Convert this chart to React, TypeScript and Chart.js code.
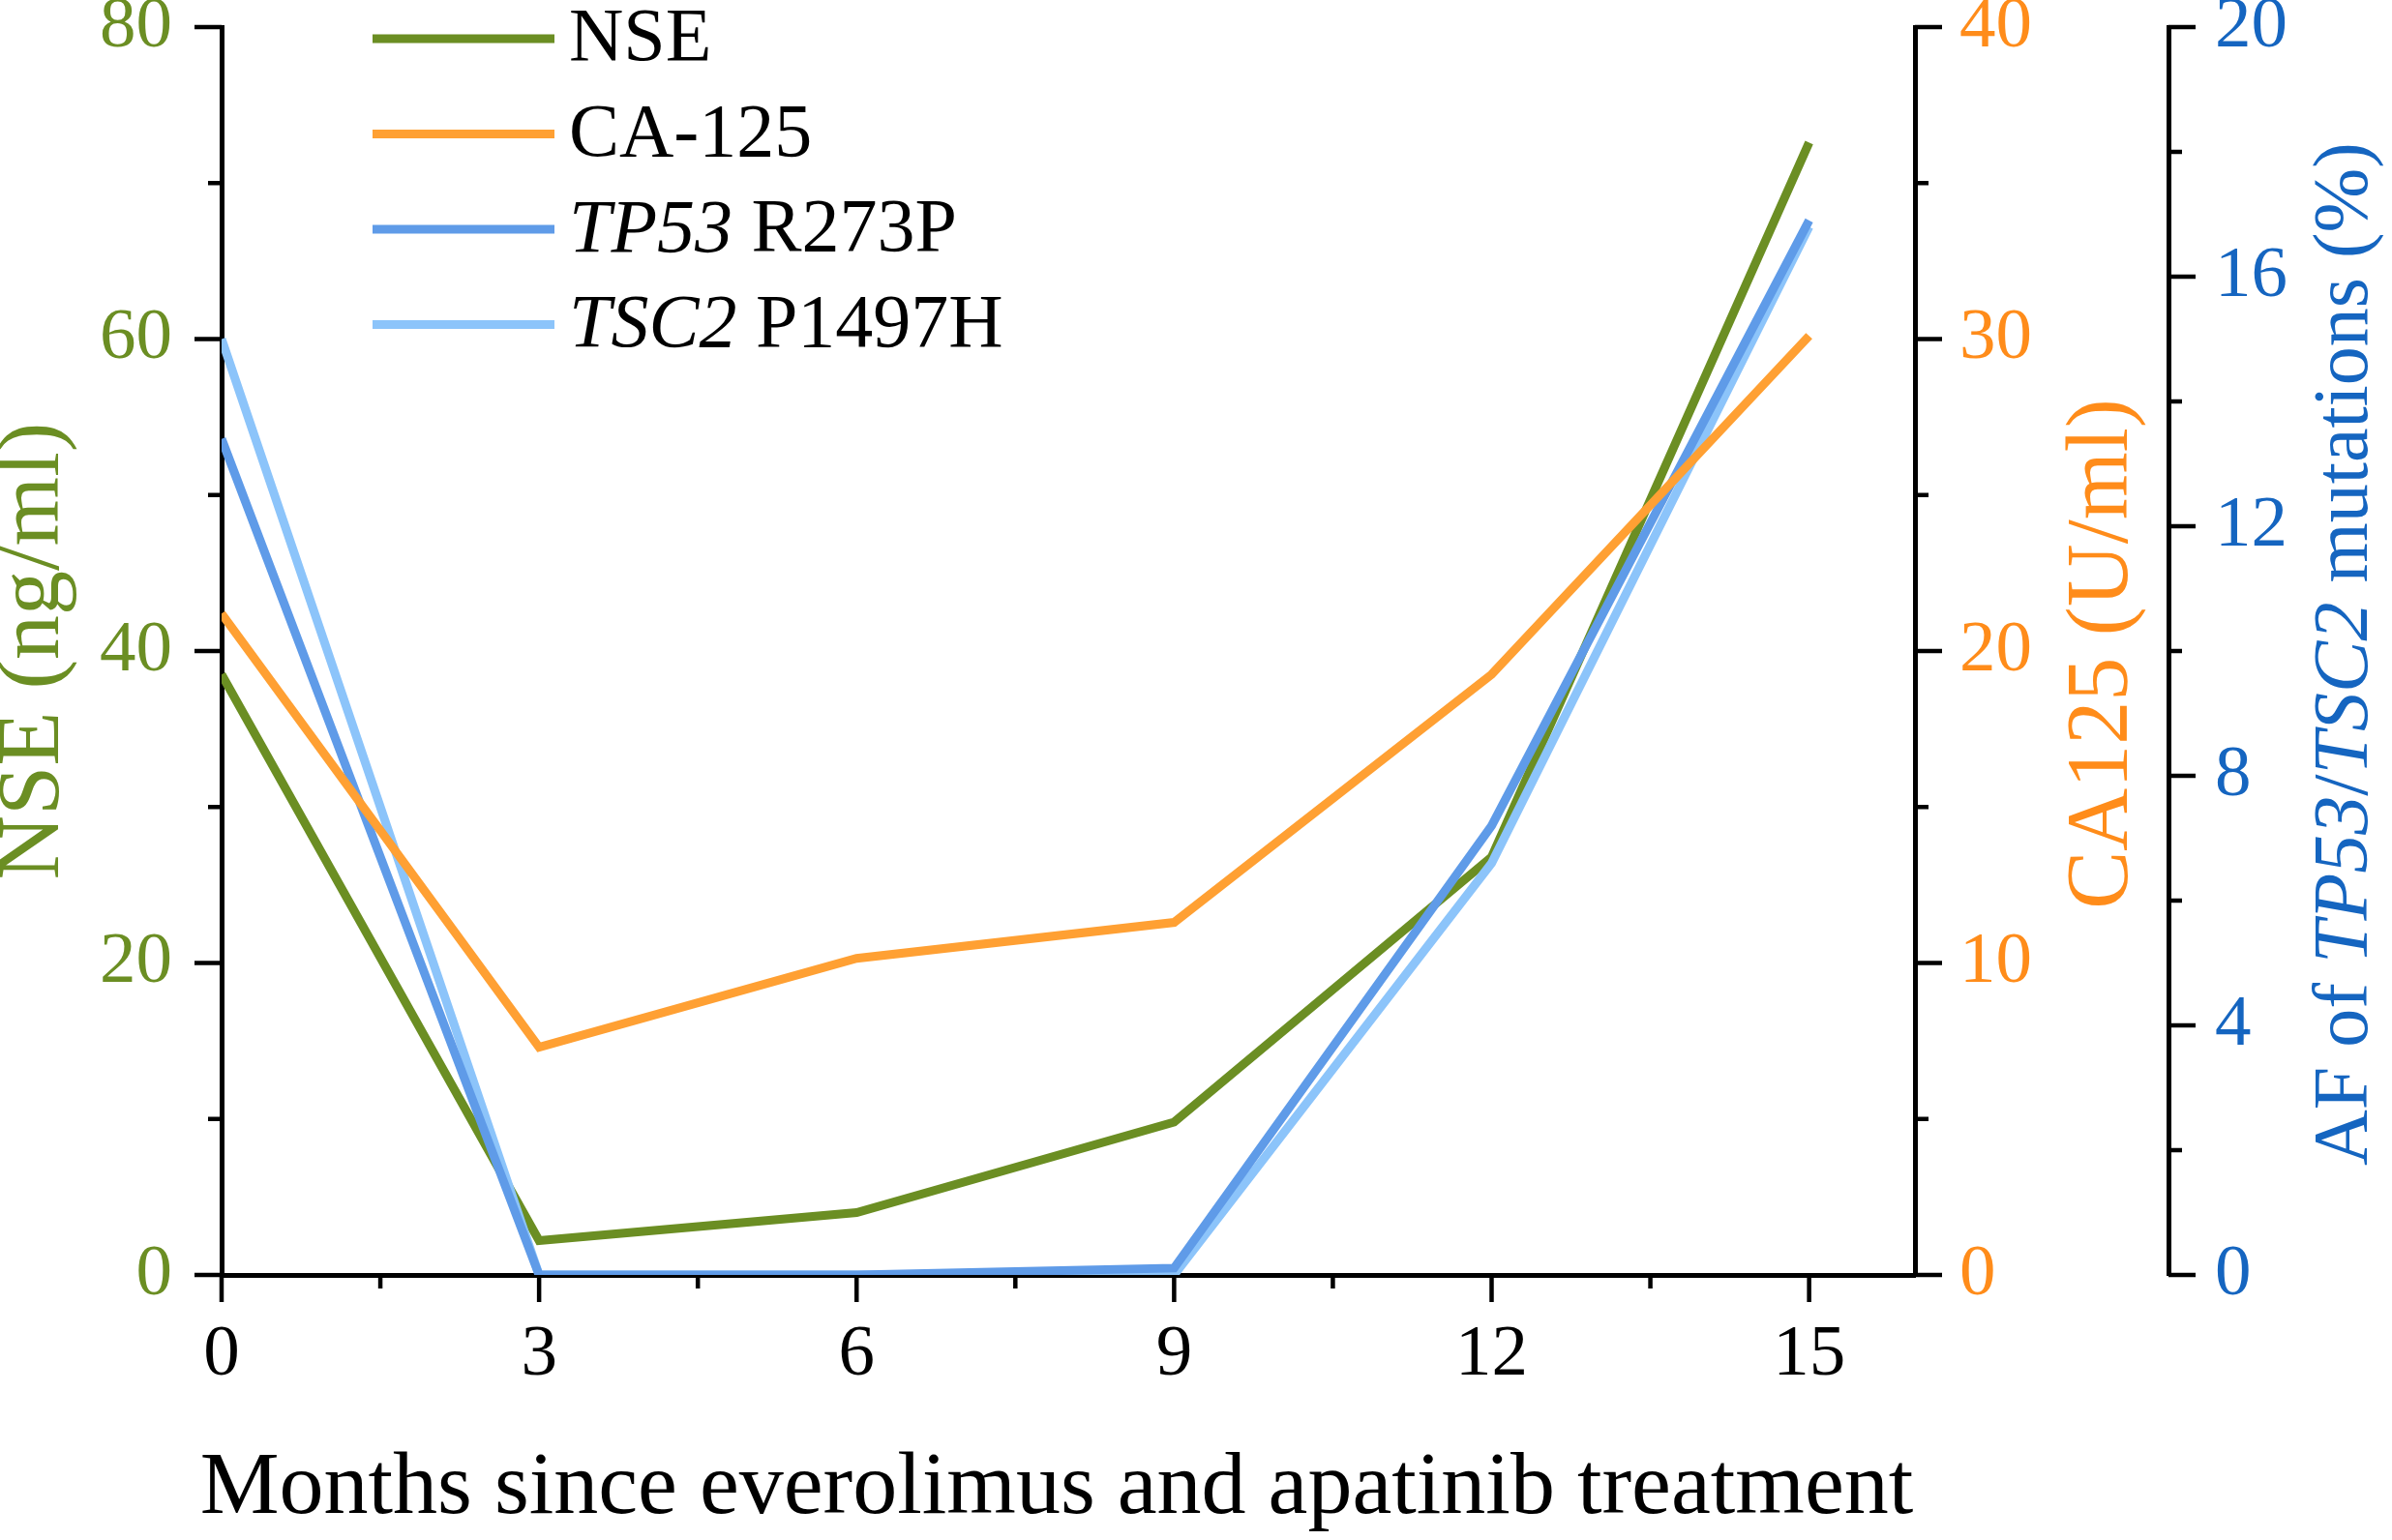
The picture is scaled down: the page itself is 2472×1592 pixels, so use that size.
import React, { useEffect, useRef } from "react";
import { Chart, registerables } from "chart.js";

Chart.register(...registerables);

// data
const months = [0, 3, 6, 9, 12, 15];
const nseValues = [38.5, 2.2, 4.0, 9.8, 26.8, 72.6];
const ca125Values = [21.2, 7.3, 10.15, 11.3, 19.25, 30.1];
const tp53Values = [13.4, 0, 0, 0.11, 7.2, 16.9];
const tsc2Values = [15.0, 0, 0, 0, 6.6, 16.8];

// tick labels / marks
const xMajorTicks = [0, 3, 6, 9, 12, 15];
const xMinorTicks = [1.5, 4.5, 7.5, 10.5, 13.5];
const nseMajorTicks = [0, 20, 40, 60, 80];
const nseMinorTicks = [10, 30, 50, 70];
const caMajorTicks = [0, 10, 20, 30, 40];
const caMinorTicks = [5, 15, 25, 35];
const afMajorTicks = [0, 4, 8, 12, 16, 20];
const afMinorTicks = [2, 6, 10, 14, 18];

const FONT = '"Liberation Serif", "Times New Roman", serif';
const GREEN = "#6B8E23";
const ORANGE_LINE = "#FFA033";
const ORANGE_TEXT = "#FF8C1A";
const BLUE_LINE = "#5F9BE8";
const LIGHT_BLUE_LINE = "#8CC4FA";
const BLUE_TEXT = "#1565C0";

type Run = { text: string; italic?: boolean };

const legendItems: { color: string; runs: Run[] }[] = [
  { color: GREEN, runs: [{ text: "NSE" }] },
  { color: ORANGE_LINE, runs: [{ text: "CA-125" }] },
  { color: BLUE_LINE, runs: [{ text: "TP53", italic: true }, { text: " R273P" }] },
  { color: LIGHT_BLUE_LINE, runs: [{ text: "TSC2", italic: true }, { text: " P1497H" }] },
];

const xTitle: Run[] = [{ text: "Months since everolimus and apatinib treatment" }];
const nseTitle: Run[] = [{ text: "NSE (ng/ml)" }];
const caTitle: Run[] = [{ text: "CA125 (U/ml)" }];
const afTitle: Run[] = [
  { text: "AF of " },
  { text: "TP53", italic: true },
  { text: "/" },
  { text: "TSC2", italic: true },
  { text: " mutations (%)" },
];

const fontFor = (size: number, italic?: boolean) => `${italic ? "italic " : ""}${size}px ${FONT}`;

const runsWidth = (ctx: CanvasRenderingContext2D, runs: Run[], size: number) =>
  runs.reduce((w, r) => {
    ctx.font = fontFor(size, r.italic);
    return w + ctx.measureText(r.text).width;
  }, 0);

const drawRuns = (ctx: CanvasRenderingContext2D, runs: Run[], x: number, y: number, size: number) => {
  let cx = x;
  runs.forEach((r) => {
    ctx.font = fontFor(size, r.italic);
    ctx.fillText(r.text, cx, y);
    cx += ctx.measureText(r.text).width;
  });
};

// rotated (bottom-to-top) title centred at cx, cy
const drawVerticalTitle = (ctx: CanvasRenderingContext2D, runs: Run[], cx: number, cy: number, size: number, color: string) => {
  const w = runsWidth(ctx, runs, size);
  ctx.save();
  ctx.translate(cx, cy);
  ctx.rotate(-Math.PI / 2);
  ctx.fillStyle = color;
  ctx.textBaseline = "middle";
  ctx.textAlign = "left";
  drawRuns(ctx, runs, -w / 2, 0, size);
  ctx.restore();
};

const decorations = {
  id: "decorations",
  afterDraw(chart: any) {
    const ctx: CanvasRenderingContext2D = chart.ctx;
    const { x, yNse, yCa, yAf } = chart.scales;
    const area = chart.chartArea;
    ctx.save();

    // tick marks (major long, minor short)
    ctx.strokeStyle = "#000";
    ctx.lineWidth = 4.5;
    ctx.lineCap = "butt";
    const vMarks = (scale: any, values: number[], x0: number, len: number) => {
      values.forEach((v) => {
        const py = scale.getPixelForValue(v);
        ctx.beginPath();
        ctx.moveTo(x0, py);
        ctx.lineTo(x0 + len, py);
        ctx.stroke();
      });
    };
    vMarks(yNse, nseMajorTicks, yNse.right, -28);
    vMarks(yNse, nseMinorTicks, yNse.right, -14);
    vMarks(yCa, caMajorTicks, yCa.left, 28);
    vMarks(yCa, caMinorTicks, yCa.left, 14);
    vMarks(yAf, afMajorTicks, yAf.left, 28);
    vMarks(yAf, afMinorTicks, yAf.left, 14);
    const hMarks = (values: number[], len: number) => {
      values.forEach((v) => {
        const px = x.getPixelForValue(v);
        ctx.beginPath();
        ctx.moveTo(px, x.top);
        ctx.lineTo(px, x.top + len);
        ctx.stroke();
      });
    };
    hMarks(xMajorTicks, 28);
    hMarks(xMinorTicks, 14);

    // axis titles
    drawVerticalTitle(ctx, nseTitle, yNse.left + 36, (area.top + area.bottom) / 2, 92, GREEN);
    drawVerticalTitle(ctx, caTitle, yCa.left + 195, (area.top + area.bottom) / 2 + 3, 90, ORANGE_TEXT);
    drawVerticalTitle(ctx, afTitle, yAf.left + 184, (area.top + area.bottom) / 2 + 3, 80, BLUE_TEXT);

    const xw = runsWidth(ctx, xTitle, 92);
    ctx.fillStyle = "#000";
    ctx.textBaseline = "middle";
    ctx.textAlign = "left";
    drawRuns(ctx, xTitle, 1092 - xw / 2, 1540, 92);

    // legend
    legendItems.forEach((item, i) => {
      const y = 40 + i * 98.5;
      ctx.strokeStyle = item.color;
      ctx.lineWidth = 9;
      ctx.beginPath();
      ctx.moveTo(385, y);
      ctx.lineTo(573, y);
      ctx.stroke();
      ctx.fillStyle = "#000";
      drawRuns(ctx, item.runs, 588, y + 2, 78);
    });

    ctx.restore();
  },
};

const App: React.FC = () => {
  const canvasRef = useRef<HTMLCanvasElement | null>(null);
  const chartRef = useRef<Chart | null>(null);

  useEffect(() => {
    if (!canvasRef.current) return;
    const ctx = canvasRef.current.getContext("2d");
    if (!ctx) return;

    const line = (label: string, values: number[], color: string, yAxisID: string, order: number) => ({
      label,
      data: months.map((m, i) => ({ x: m, y: values[i] })),
      borderColor: color,
      backgroundColor: color,
      borderWidth: 9,
      pointRadius: 0,
      borderJoinStyle: "miter" as const,
      tension: 0,
      yAxisID,
      order,
    });

    const tickFont = { family: FONT, size: 75 };
    const noPad = (scale: any) => {
      scale.paddingTop = 0;
      scale.paddingBottom = 0;
      scale.paddingLeft = 0;
      scale.paddingRight = 0;
    };
    const border = { display: true, color: "#000", width: 5 };

    chartRef.current = new Chart(ctx, {
      type: "line",
      data: {
        datasets: [
          line("NSE", nseValues, GREEN, "yNse", 4),
          line("CA-125", ca125Values, ORANGE_LINE, "yCa", 1),
          line("TP53 R273P", tp53Values, BLUE_LINE, "yAf", 2),
          line("TSC2 P1497H", tsc2Values, LIGHT_BLUE_LINE, "yAf", 3),
        ],
      },
      options: {
        responsive: true,
        maintainAspectRatio: false,
        animation: false,
        layout: { padding: { top: 28, left: 0, right: 0, bottom: 0 } },
        plugins: { legend: { display: false }, tooltip: { enabled: false } },
        scales: {
          x: {
            type: "linear",
            position: "bottom",
            min: 0,
            max: 16,
            z: 1,
            grid: { display: false, drawTicks: true, tickLength: 28 },
            border,
            ticks: { color: "#000", font: tickFont, padding: 10, maxRotation: 0 },
            afterBuildTicks: (scale: any) => {
              scale.ticks = xMajorTicks.map((v) => ({ value: v }));
            },
            afterFit: (scale: any) => {
              scale.height = 274;
              noPad(scale);
            },
          },
          yNse: {
            type: "linear",
            position: "left",
            min: 0,
            max: 80,
            z: 1,
            grid: { display: false, drawTicks: true, tickLength: 28 },
            border,
            ticks: { color: GREEN, font: tickFont, padding: 23, stepSize: 20 },
            afterFit: (scale: any) => {
              scale.width = 229;
              noPad(scale);
            },
          },
          yCa: {
            type: "linear",
            position: "right",
            weight: 0,
            min: 0,
            max: 40,
            z: 1,
            grid: { display: false, drawTicks: true, tickLength: 28 },
            border,
            ticks: { color: ORANGE_TEXT, font: tickFont, padding: 18, stepSize: 10 },
            afterFit: (scale: any) => {
              scale.width = 262;
              noPad(scale);
            },
          },
          yAf: {
            type: "linear",
            position: "right",
            weight: 1,
            min: 0,
            max: 20,
            z: 1,
            grid: { display: false, drawTicks: true, tickLength: 28 },
            border,
            ticks: { color: BLUE_TEXT, font: tickFont, padding: 20, stepSize: 4 },
            afterFit: (scale: any) => {
              scale.width = 231;
              noPad(scale);
            },
          },
        },
      },
      plugins: [decorations],
    });

    return () => {
      if (chartRef.current) {
        chartRef.current.destroy();
        chartRef.current = null;
      }
    };
  }, []);

  return (
    <div style={{ position: "fixed", left: 0, top: 0, width: 2472, height: 1592, background: "#fff" }}>
      <canvas ref={canvasRef} />
    </div>
  );
};

export default App;
